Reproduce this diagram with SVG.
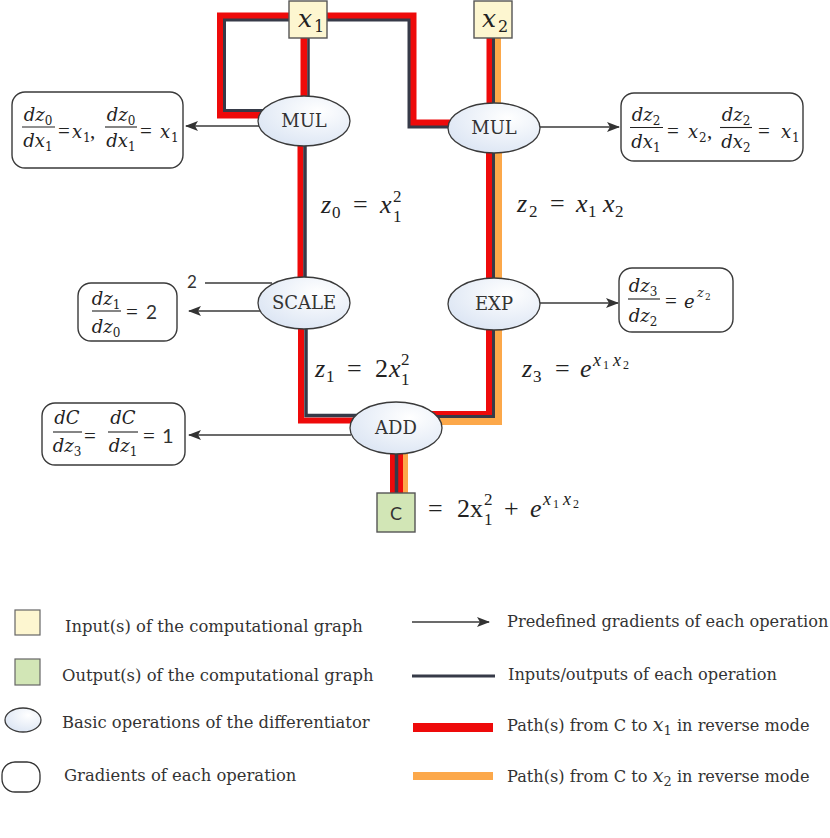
<svg xmlns="http://www.w3.org/2000/svg" width="830" height="838" viewBox="0 0 830 838">
<style>
.red{fill:none;stroke:#ee0a0a;stroke-linejoin:miter}
.dk{fill:none;stroke:#363a48;stroke-linejoin:miter}
.or{fill:none;stroke:#fca84a;stroke-linejoin:miter}
.arr{fill:none;stroke:#3a3a3a;stroke-width:1.3}
.op{fill:url(#eg);stroke:#3a3a3a;stroke-width:1.3}
.gbox{fill:#fff;stroke:#3a3a3a;stroke-width:1.4}
.lbl{font-family:"DejaVu Serif","Liberation Serif",serif;font-size:18px;fill:#333;text-anchor:middle}
.mv{font-family:"DejaVu Serif","Liberation Serif",serif;font-style:italic;font-size:18px;fill:#222}
.ms{font-family:"DejaVu Serif","Liberation Serif",serif;font-style:normal;font-size:12px;fill:#222}
.eq{font-family:"Liberation Serif","DejaVu Serif",serif;font-size:21px;fill:#222}
.bar{stroke:#222;stroke-width:1.1}
.z{font-family:"Liberation Serif","DejaVu Serif",serif;font-size:26px;fill:#222}
.i{font-style:italic}
.zs{font-size:17px}
.zx{font-size:18px;font-style:italic}
.zt{font-size:12px}
.leg{font-family:"DejaVu Serif","Liberation Serif",serif;font-size:16.4px;fill:#333}
.legr{font-family:"DejaVu Serif","Liberation Serif",serif;font-size:16.2px;fill:#333}
.sans{font-family:Lato,"Liberation Sans",sans-serif;fill:#333}
</style>
<defs>
<radialGradient id="eg" cx="0.65" cy="0.3" r="0.8">
<stop offset="0" stop-color="#ffffff"/>
<stop offset="1" stop-color="#dae4f3"/>
</radialGradient>
<marker id="ah" markerUnits="userSpaceOnUse" markerWidth="13" markerHeight="10" refX="12" refY="5" orient="auto">
<path d="M0,0 L13,5 L0,10 L3,5 z" fill="#333"/>
</marker>
</defs>

<g id="connectors">
<path class="red" stroke-width="8" d="M292,16.5 H221 V114.5 H270"/>
<path class="dk" stroke-width="3" d="M292,20 H224.5 V110.5 H270"/>
<path class="red" stroke-width="7" d="M304,36 V105"/>
<path class="dk" stroke-width="2.5" d="M308.5,36 V105"/>
<path class="red" stroke-width="8" d="M325,16.5 H412.5 V123.5 H460"/>
<path class="dk" stroke-width="3" d="M325,20 H409 V127 H460"/>
<path class="red" stroke-width="6" d="M489.5,36 V110"/>
<path class="dk" stroke-width="3" d="M493.5,36 V110"/>
<path class="or" stroke-width="6" d="M498,36 V110"/>
<path class="red" stroke-width="6" d="M300.5,140 V285"/>
<path class="dk" stroke-width="3.5" d="M305,140 V285"/>
<path class="red" stroke-width="6" d="M489,145 V285"/>
<path class="dk" stroke-width="3" d="M493.5,145 V285"/>
<path class="or" stroke-width="7" d="M498.5,145 V285"/>
<path class="red" stroke-width="6" d="M301,320 V420.5 H370"/>
<path class="dk" stroke-width="3.5" d="M306,320 V415.5 H370"/>
<path class="red" stroke-width="6" d="M489,320 V414 H420"/>
<path class="dk" stroke-width="3" d="M493.5,320 V416.5 H420"/>
<path class="or" stroke-width="7" d="M498.5,320 V421.5 H420"/>
<path class="red" stroke-width="13" d="M396.5,445 V495"/>
<path class="dk" stroke-width="3.5" d="M396.5,445 V495"/>
<path class="or" stroke-width="5" d="M405.5,445 V495"/>
<line class="arr" x1="262" y1="126" x2="186" y2="126" marker-end="url(#ah)"/>
<line class="arr" x1="540" y1="127" x2="619" y2="127" marker-end="url(#ah)"/>
<line class="arr" x1="205" y1="283" x2="272" y2="283"/>
<line class="arr" x1="260" y1="311" x2="189" y2="311" marker-end="url(#ah)"/>
<line class="arr" x1="540" y1="303" x2="618" y2="303" marker-end="url(#ah)"/>
<line class="arr" x1="351" y1="435" x2="189" y2="435" marker-end="url(#ah)"/>
</g>

<g id="x1">
<rect x="289" y="1" width="38" height="37" fill="#fdf6d0" stroke="#555" stroke-width="1.4"/>
<text class="mv" x="298" y="27" style="font-size:25px">x</text>
<text class="ms" x="314" y="32" style="font-size:16px">1</text>
</g>
<g id="x2">
<rect x="474" y="1" width="38" height="37" fill="#fdf6d0" stroke="#555" stroke-width="1.4"/>
<text class="mv" x="482" y="27" style="font-size:25px">x</text>
<text class="ms" x="498" y="32" style="font-size:16px">2</text>
</g>

<g id="mul1">
<ellipse class="op" cx="304" cy="121" rx="46" ry="25"/>
<text class="lbl" x="304" y="127">MUL</text>
</g>
<g id="mul2">
<ellipse class="op" cx="494" cy="128" rx="46" ry="25"/>
<text class="lbl" x="494" y="134">MUL</text>
</g>
<g id="scale">
<ellipse class="op" cx="304" cy="303" rx="46" ry="26"/>
<text class="lbl" x="304" y="309">SCALE</text>
<text class="sans" x="187" y="288" font-size="17">2</text>
</g>
<g id="exp">
<ellipse class="op" cx="494" cy="304" rx="46" ry="26"/>
<text class="lbl" x="494" y="310">EXP</text>
</g>
<g id="add">
<ellipse class="op" cx="396" cy="428" rx="46" ry="26"/>
<text class="lbl" x="396" y="434">ADD</text>
</g>
<g id="c">
<rect x="377" y="493" width="38" height="39" fill="#d2e6b6" stroke="#555" stroke-width="1.4"/>
<text class="sans" x="396" y="520" font-size="18" text-anchor="middle">C</text>
</g>

<g id="grad-mul1">
<rect class="gbox" x="12" y="92" width="171" height="76" rx="13"/>
<text class="mv" x="38" y="121" text-anchor="middle">dz<tspan class="ms" dy="4">0</tspan></text>
<line class="bar" x1="22" y1="127" x2="55" y2="127"/>
<text class="mv" x="38" y="147" text-anchor="middle">dx<tspan class="ms" dy="4">1</tspan></text>
<text class="eq" x="58" y="138">=</text>
<text class="mv" x="72" y="138">x</text>
<text class="ms" x="83" y="142">1</text>
<text class="eq" x="90" y="138">,</text>
<text class="mv" x="121" y="121" text-anchor="middle">dz<tspan class="ms" dy="4">0</tspan></text>
<line class="bar" x1="105" y1="127" x2="137" y2="127"/>
<text class="mv" x="121" y="147" text-anchor="middle">dx<tspan class="ms" dy="4">1</tspan></text>
<text class="eq" x="140" y="138">=</text>
<text class="mv" x="160" y="138">x</text>
<text class="ms" x="171" y="142">1</text>
</g>

<g id="grad-mul2">
<rect class="gbox" x="621" y="93" width="182" height="68" rx="13"/>
<text class="mv" x="646" y="121" text-anchor="middle">dz<tspan class="ms" dy="4">2</tspan></text>
<line class="bar" x1="630" y1="127.5" x2="663" y2="127.5"/>
<text class="mv" x="646" y="148" text-anchor="middle">dx<tspan class="ms" dy="4">1</tspan></text>
<text class="eq" x="667" y="138">=</text>
<text class="mv" x="688" y="138">x</text>
<text class="ms" x="699" y="142">2</text>
<text class="eq" x="707" y="138">,</text>
<text class="mv" x="736" y="121" text-anchor="middle">dz<tspan class="ms" dy="4">2</tspan></text>
<line class="bar" x1="720" y1="127.5" x2="752" y2="127.5"/>
<text class="mv" x="736" y="148" text-anchor="middle">dx<tspan class="ms" dy="4">2</tspan></text>
<text class="eq" x="758" y="138">=</text>
<text class="mv" x="781" y="138">x</text>
<text class="ms" x="792" y="142">1</text>
</g>

<g id="grad-scale">
<rect class="gbox" x="78" y="283" width="99" height="58" rx="13"/>
<text class="mv" x="106" y="305" text-anchor="middle">dz<tspan class="ms" dy="4">1</tspan></text>
<line class="bar" x1="92" y1="311" x2="121" y2="311"/>
<text class="mv" x="106" y="333" text-anchor="middle">dz<tspan class="ms" dy="4">0</tspan></text>
<text class="eq" x="126" y="319">=</text>
<text class="sans" x="146" y="319" font-size="19">2</text>
</g>

<g id="grad-exp">
<rect class="gbox" x="619" y="268" width="114" height="64" rx="13"/>
<text class="mv" x="643" y="292" text-anchor="middle">dz<tspan class="ms" dy="4">3</tspan></text>
<line class="bar" x1="628" y1="299" x2="660" y2="299"/>
<text class="mv" x="643" y="322" text-anchor="middle">dz<tspan class="ms" dy="4">2</tspan></text>
<text class="eq" x="665" y="308">=</text>
<text class="mv" x="684" y="308">e</text>
<text class="mv" x="697" y="297" style="font-size:13px">z</text>
<text class="ms" x="705" y="300" style="font-size:9px">2</text>
</g>

<g id="grad-add">
<rect class="gbox" x="42" y="403" width="143" height="62" rx="13"/>
<text class="mv" x="67" y="424" text-anchor="middle">dC</text>
<line class="bar" x1="53" y1="432" x2="82" y2="432"/>
<text class="mv" x="67" y="452" text-anchor="middle">dz<tspan class="ms" dy="4">3</tspan></text>
<text class="eq" x="84" y="443">=</text>
<text class="mv" x="123" y="424" text-anchor="middle">dC</text>
<line class="bar" x1="108" y1="432" x2="138" y2="432"/>
<text class="mv" x="123" y="452" text-anchor="middle">dz<tspan class="ms" dy="4">1</tspan></text>
<text class="eq" x="143" y="443">=</text>
<text class="sans" x="162" y="443" font-size="20">1</text>
</g>

<g id="z0">
<text class="z i" x="321" y="213">z</text><text class="z zs" x="332" y="218">0</text>
<text class="z" x="353" y="213">=</text>
<text class="z i" x="380" y="213">x</text><text class="z zs" x="393" y="202">2</text><text class="z zs" x="393" y="222">1</text>
</g>
<g id="z2">
<text class="z i" x="517" y="212">z</text><text class="z zs" x="529" y="217">2</text>
<text class="z" x="550" y="212">=</text>
<text class="z i" x="576" y="212">x</text><text class="z zs" x="588" y="217">1</text>
<text class="z i" x="603" y="212">x</text><text class="z zs" x="615" y="217">2</text>
</g>
<g id="z1">
<text class="z i" x="315" y="377">z</text><text class="z zs" x="326" y="382">1</text>
<text class="z" x="347" y="377">=</text>
<text class="z" x="375" y="377">2</text><text class="z i" x="389" y="377">x</text>
<text class="z zs" x="401" y="365">2</text><text class="z zs" x="401" y="385">1</text>
</g>
<g id="z3">
<text class="z i" x="522" y="377">z</text><text class="z zs" x="533" y="382">3</text>
<text class="z" x="555" y="377">=</text>
<text class="z i" x="580" y="377">e</text>
<text class="z zx" x="593" y="366">x</text><text class="z zt" x="603" y="369">1</text>
<text class="z zx" x="613" y="366">x</text><text class="z zt" x="623" y="369">2</text>
</g>
<g id="cformula">
<text class="z" x="428" y="517">=</text>
<text class="z" x="457" y="517">2x</text>
<text class="z zs" x="484" y="505">2</text><text class="z zs" x="484" y="525">1</text>
<text class="z" x="504" y="517">+</text>
<text class="z i" x="530" y="517">e</text>
<text class="z zx" x="543" y="505">x</text><text class="z zt" x="553" y="508">1</text>
<text class="z zx" x="563" y="505">x</text><text class="z zt" x="573" y="508">2</text>
</g>

<g id="legend">
<rect x="15" y="610" width="25" height="25" fill="#fdf6d0" stroke="#666" stroke-width="1.2"/>
<rect x="15" y="659" width="25" height="26" fill="#d2e6b6" stroke="#666" stroke-width="1.2"/>
<ellipse class="op" cx="23" cy="720" rx="18" ry="12"/>
<rect x="2" y="762" width="38" height="30" rx="13" fill="#fff" stroke="#333" stroke-width="1.3"/>
<text class="leg" x="65" y="632">Input(s) of the computational graph</text>
<text class="leg" x="62" y="681">Output(s) of the computational graph</text>
<text class="leg" x="62" y="728">Basic operations of the differentiator</text>
<text class="leg" x="64" y="781">Gradients of each operation</text>
<line class="arr" x1="412" y1="622" x2="489" y2="622" marker-end="url(#ah)"/>
<line x1="412" y1="676" x2="495" y2="676" stroke="#363a48" stroke-width="3"/>
<rect x="413" y="723" width="80" height="9" fill="#ee0a0a"/>
<rect x="413" y="772" width="80" height="8" fill="#fca84a"/>
<text class="legr" x="507" y="627">Predefined gradients of each operation</text>
<text class="legr" x="508" y="680">Inputs/outputs of each operation</text>
<text class="legr" x="507" y="731">Path(s) from C to <tspan style="font-style:italic;font-size:19px">x</tspan><tspan style="font-size:13px" dy="4">1</tspan><tspan dy="-4"> in reverse mode</tspan></text>
<text class="legr" x="507" y="782">Path(s) from C to <tspan style="font-style:italic;font-size:19px">x</tspan><tspan style="font-size:13px" dy="4">2</tspan><tspan dy="-4">  in reverse mode</tspan></text>
</g>
</svg>
